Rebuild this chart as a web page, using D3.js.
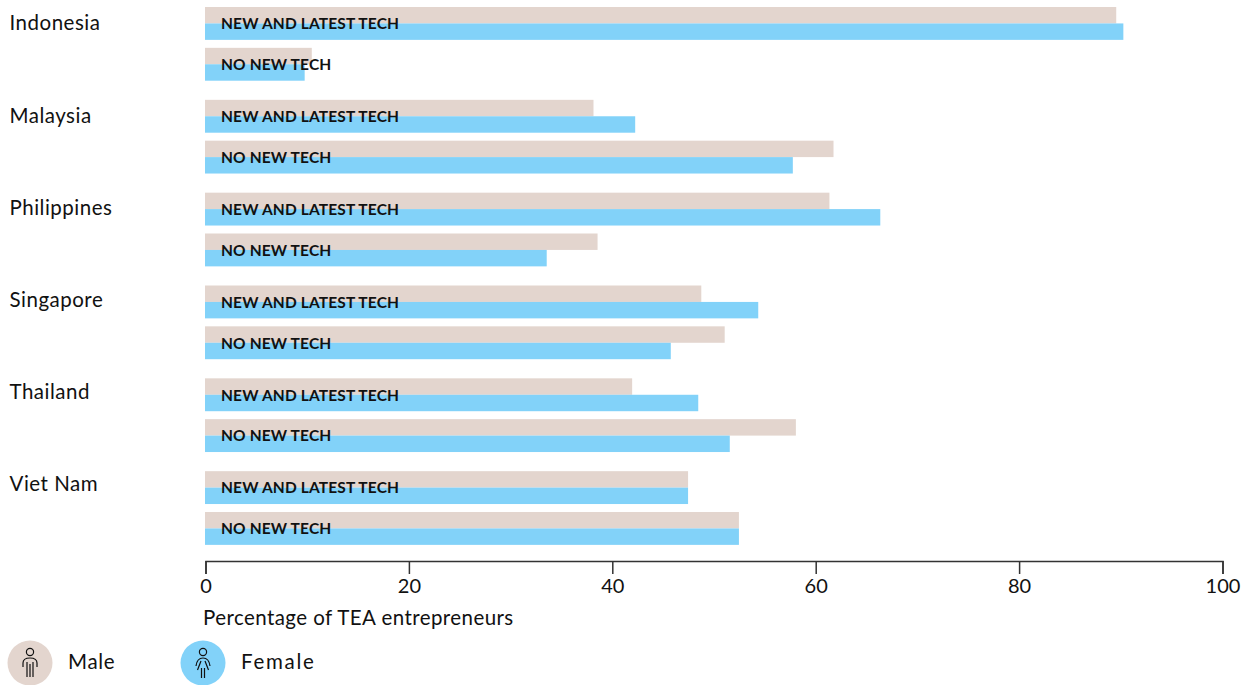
<!DOCTYPE html>
<html><head><meta charset="utf-8">
<script src="https://cdn.jsdelivr.net/npm/d3@7"></script>
<style>html,body{margin:0;padding:0;background:#fff}svg{display:block}text{font-family:Lato,sans-serif;fill:#111}</style>
</head><body><svg id="c" width="1248" height="685"></svg>
<script>
const countries=["Indonesia","Malaysia","Philippines","Singapore","Thailand","Viet Nam"];
const techs=["NEW AND LATEST TECH","NO NEW TECH"];
const maleValues=[89.6,10.5,38.2,61.8,61.4,38.6,48.8,51.1,42,58.1,47.5,52.5];
const femaleValues=[90.3,9.8,42.3,57.8,66.4,33.6,54.4,45.8,48.5,51.6,47.5,52.5];
const xTicks=[0,20,40,60,80,100];
const seriesNames=["Male","Female"];
const seriesColors=["#e3d5ce","#82d2f9"];

const svg=d3.select("#c");
const x=d3.scaleLinear().domain([0,100]).range([205.5,1222.5]);
const yC=d3.scaleBand().domain(countries).range([7,564]);
const yLabel=d3.scalePoint().domain(countries).range([30.4,491.4]);
const yT=d3.scaleBand().domain(techs).range([0,73.7]).paddingInner(0.195).paddingOuter(0);
const yS=d3.scaleBand().domain(seriesNames).range([0,yT.bandwidth()]);

countries.forEach((c,i)=>{
  svg.append("text").attr("x",9.5).attr("y",yLabel(c)).attr("font-size",20.5).attr("letter-spacing",0.5).text(c);
  const g=svg.append("g").attr("transform",`translate(0,${yC(c)})`);
  techs.forEach((t,j)=>{
    const vals=[maleValues[i*2+j],femaleValues[i*2+j]];
    const tg=g.append("g").attr("transform",`translate(0,${yT(t)})`);
    tg.selectAll("rect").data(vals).join("rect")
      .attr("x",x(0)-0.5).attr("y",(d,k)=>yS(seriesNames[k]))
      .attr("width",d=>x(d)-x(0)).attr("height",yS.bandwidth())
      .attr("fill",(d,k)=>seriesColors[k]);
    tg.append("text").attr("x",221).attr("y",yS.bandwidth()+5.8)
      .attr("font-size",15.5).attr("font-weight",700).attr("letter-spacing",0.15).text(t);
  });
});

const axis=svg.append("g").attr("transform","translate(0,561)")
  .call(d3.axisBottom(x).tickValues(xTicks).tickSize(13).tickSizeOuter(13).tickPadding(5));
axis.selectAll("path,line").attr("stroke","#333").attr("stroke-width",1.5);
axis.selectAll("text").attr("font-size",20).attr("font-family","Lato,sans-serif").attr("fill","#111");

svg.append("text").attr("x",203).attr("y",625.4).attr("font-size",20.5).attr("letter-spacing",0.43).text("Percentage of TEA entrepreneurs");

const legendX=[30,203], legendLabelX=[68,241], legendLabelSpacing=[0.7,1.7];
seriesNames.forEach((s,i)=>{
  const cx=legendX[i],cy=663;
  svg.append("circle").attr("cx",cx).attr("cy",cy).attr("r",22.5).attr("fill",seriesColors[i]);
  const ic=svg.append("g").attr("transform",`translate(${cx},${cy})`).attr("fill","none").attr("stroke","#111").attr("stroke-width",1.2);
  ic.append("circle").attr("cx",0).attr("cy",-11).attr("r",3.6);
  if(i===0){
    ic.append("path").attr("d","M-7,4 V0 Q-7,-5 0,-5 Q7,-5 7,0 V4 M-3,-1 V14 M0,1 V14 M3,-1 V14");
  }else{
    ic.append("path").attr("d","M-7,3 Q-6,-5 0,-5 Q6,-5 7,3 M-2,-2 L-5.5,7 M2,-2 L5.5,7 M-1.5,5 V15 M1.5,5 V15");
  }
  svg.append("text").attr("x",legendLabelX[i]).attr("y",669).attr("font-size",20.5).attr("letter-spacing",legendLabelSpacing[i]).text(s);
});
</script></body></html>
